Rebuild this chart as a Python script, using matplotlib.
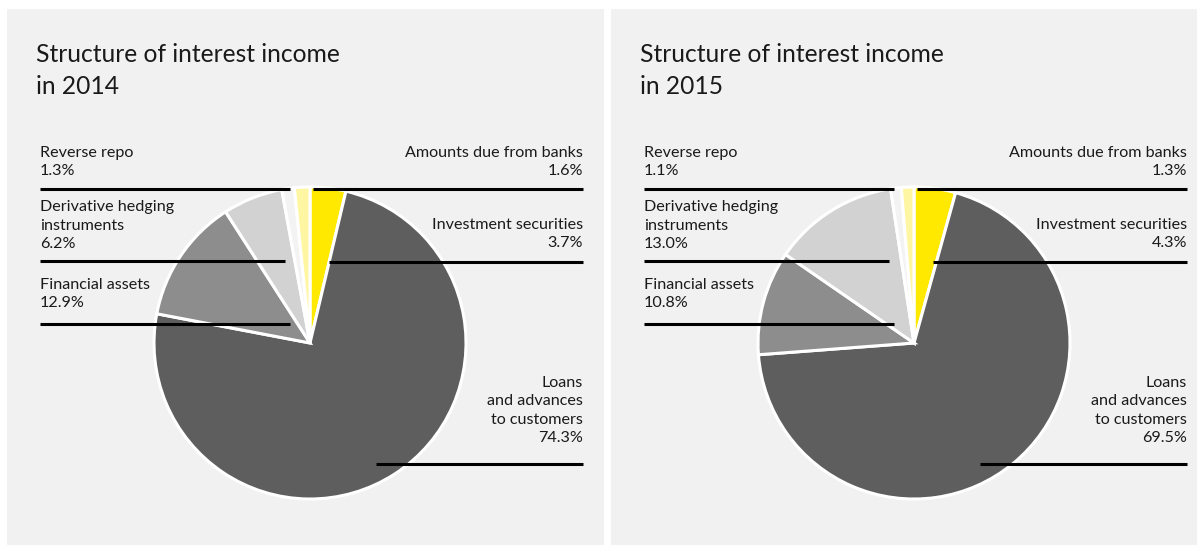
import matplotlib
matplotlib.use("Agg")
import matplotlib.pyplot as plt
from matplotlib.patches import Rectangle

# 数据
years = ["2014", "2015"]
categories = ["Investment securities", "Loans\nand advances\nto customers",
              "Financial assets", "Derivative hedging\ninstruments",
              "Reverse repo", "Amounts due from banks"]
values_2014 = [3.7, 74.3, 12.9, 6.2, 1.3, 1.6]
values_2015 = [4.3, 69.5, 10.8, 13.0, 1.1, 1.3]
colors = ["#ffe900", "#5e5e5e", "#8d8d8d", "#d2d2d2", "#f3f3f3", "#fff6a3"]

W, H = 1197, 546
BG = "#f1f1f1"

plt.rcParams['font.family'] = ['Lato', 'DejaVu Sans']

fig = plt.figure(figsize=(W / 100, H / 100), dpi=100, facecolor="white")
ax = fig.add_axes([0, 0, 1, 1])


def Y(y):
    # 像素坐标 -> 数据坐标（y向上）
    return H - y


def draw_panel(ax, x0, year, values):
    ax.add_patch(Rectangle((x0 + 7, Y(545)), 597, 536, facecolor=BG,
                           edgecolor="none", zorder=0))
    # 多行文本的 baseline 对齐最后一行
    ax.text(x0 + 36, Y(94), "Structure of interest income\nin " + year,
            fontsize=17.7, ha="left", va="baseline",
            linespacing=1.5, color="#1a1a1a", zorder=5)

    wedges, _ = ax.pie(values, colors=colors, startangle=90, counterclock=False,
                       center=(x0 + 310, Y(343)), radius=156,
                       wedgeprops=dict(edgecolor="white", linewidth=2.2))
    for w in wedges:
        w.set_zorder(2)

    fmt = lambda v: f"{v:.1f}%"
    fs = 11.6
    ls = 1.4
    # 左侧标签
    left = [(4, 175, 189, 290), (3, 248, 261, 285), (2, 307, 324, 290)]
    for i, yb, yl, xe in left:
        ax.text(x0 + 40, Y(yb), categories[i] + "\n" + fmt(values[i]),
                fontsize=fs, ha="left", va="baseline",
                linespacing=ls, color="#1a1a1a", zorder=5)
        ax.plot([x0 + 40, x0 + xe], [Y(yl), Y(yl)], color="black", lw=2.2,
                solid_capstyle="butt", zorder=4)
    # 右侧标签
    right = [(5, 175, 189, 313), (0, 247, 262, 329), (1, 442, 464, 376)]
    for i, yb, yl, xs in right:
        ax.text(x0 + 583, Y(yb), categories[i] + "\n" + fmt(values[i]),
                fontsize=fs, ha="right", va="baseline",
                linespacing=ls, color="#1a1a1a", zorder=5,
                multialignment="right")
        ax.plot([x0 + xs, x0 + 583], [Y(yl), Y(yl)], color="black", lw=2.2,
                solid_capstyle="butt", zorder=4)


draw_panel(ax, 0, years[0], values_2014)
draw_panel(ax, 604, years[1], values_2015)

ax.set_xlim(0, W)
ax.set_ylim(0, H)
ax.set_aspect("auto")
ax.axis("off")

fig.savefig("out.png", dpi=100, facecolor="white")
